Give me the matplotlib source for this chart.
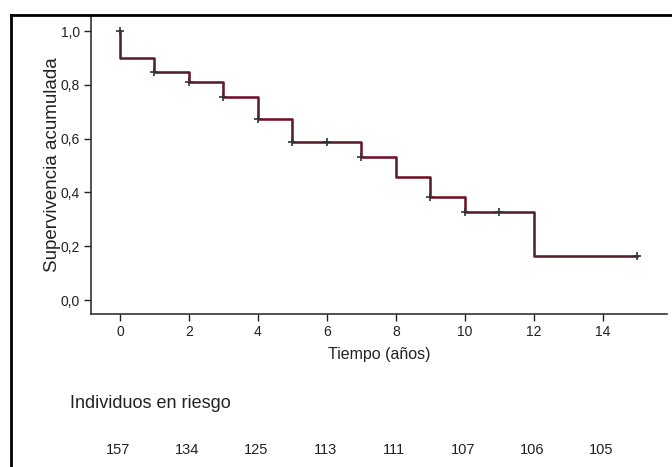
import matplotlib
matplotlib.use("Agg")
import matplotlib.pyplot as plt
from matplotlib.lines import Line2D
import matplotlib.transforms as mtransforms

plt.rcParams['font.family'] = ['Liberation Sans', 'DejaVu Sans']

# Kaplan-Meier step data
times = [0, 1, 2, 3, 4, 5, 7, 8, 9, 10, 12, 15]
surv = [0.898, 0.846, 0.809, 0.754, 0.672, 0.588, 0.533, 0.456, 0.382, 0.326, 0.165, 0.165]
# censoring marks
cens_t = [0, 1, 2, 3, 4, 5, 6, 7, 9, 10, 11, 15]
cens_s = [1.0, 0.846, 0.809, 0.754, 0.672, 0.588, 0.588, 0.533, 0.382, 0.326, 0.326, 0.165]
# numbers at risk
risk_t = [0, 2, 4, 6, 8, 10, 12, 14]
risk_n = [157, 134, 125, 113, 111, 107, 106, 105]
xticks = [0, 2, 4, 6, 8, 10, 12, 14]
yticks = [0.0, 0.2, 0.4, 0.6, 0.8, 1.0]
ytick_labels = ["0,0", "0,2", "0,4", "0,6", "0,8", "1,0"]

W, H = 672, 467
fig = plt.figure(figsize=(W / 100, H / 100), dpi=100)
ax = fig.add_axes([91 / W, 1 - 314 / H, (667 - 91) / W, (314 - 16) / H])

# step path: start at 1.0 at t=0
xs = [times[0]] + times
ys = [1.0] + surv
ax.step(xs, ys, where='post', color='#7a1c30', lw=1.9, zorder=2)
ax.step(xs, ys, where='post', color='#222222', lw=0.7, alpha=0.45, zorder=3)
ax.plot(cens_t, cens_s, linestyle='none', marker='+', color='#333333',
        markersize=6, mew=1.2, zorder=4)

ax.set_xlim(-0.84, 15.86)
ax.set_ylim(-0.052, 1.056)
ax.set_xticks(xticks)
ax.set_xticklabels([str(t) for t in xticks])
ax.set_yticks(yticks)
ax.set_yticklabels(ytick_labels)
ax.tick_params(direction='out', length=5, width=1, labelsize=10, colors='#222222', pad=3)
for s in ['top', 'right']:
    ax.spines[s].set_visible(False)
for s in ['left', 'bottom']:
    ax.spines[s].set_linewidth(1.2)
    ax.spines[s].set_color('#333333')

ax.set_xlabel("Tiempo (años)", fontsize=11.5, labelpad=6, color='#222222')
ax.set_ylabel("Supervivencia acumulada", fontsize=13.5, labelpad=0, color='#222222')

fig.text(70 / W, 1 - 403 / H, "Individuos en riesgo", fontsize=13,
         ha='left', va='center', color='#222222')
trans = mtransforms.blended_transform_factory(ax.transData, fig.transFigure)
for t, n in zip(risk_t, risk_n):
    ax.text(t - 0.05, 1 - 450 / H, str(n), transform=trans, fontsize=10.5,
            ha='center', va='center', color='#222222', clip_on=False)

# frame lines (top and left)
fig.add_artist(Line2D([11 / W, 1.0], [1 - 15 / H, 1 - 15 / H], transform=fig.transFigure,
                      color='black', lw=2))
fig.add_artist(Line2D([11 / W, 11 / W], [0, 1 - 15 / H], transform=fig.transFigure,
                      color='black', lw=2))

fig.savefig("out.png", dpi=100)
